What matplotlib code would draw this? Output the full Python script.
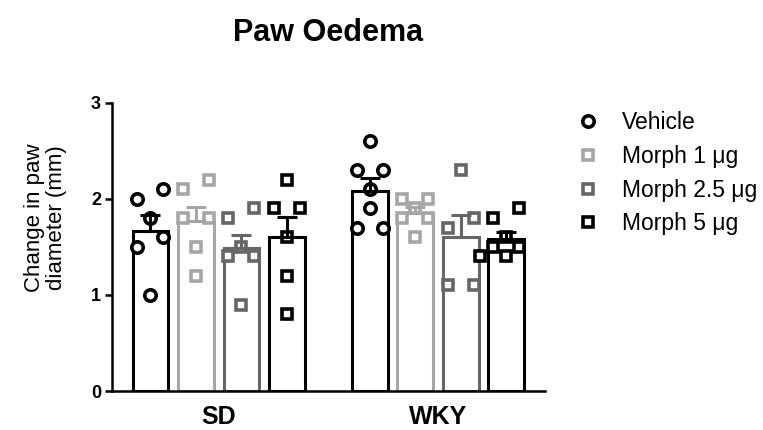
import numpy as np
import matplotlib
matplotlib.use("Agg")
import matplotlib.pyplot as plt
from matplotlib.lines import Line2D

plt.rcParams['font.family'] = ['Liberation Sans', 'DejaVu Sans']

# values (change in paw diameter, mm)
groups = ['SD', 'WKY']
treatments = ['Vehicle', 'Morph 1 μg', 'Morph 2.5 μg', 'Morph 5 μg']

sd_vehicle = [2.1, 2.0, 1.8, 1.6, 1.5, 1.0]
sd_morph1 = [2.2, 2.1, 1.8, 1.8, 1.5, 1.2]
sd_morph25 = [1.9, 1.8, 1.5, 1.4, 1.4, 0.9]
sd_morph5 = [2.2, 1.9, 1.9, 1.6, 1.2, 0.8]

wky_vehicle = [2.6, 2.3, 2.3, 2.1, 1.9, 1.7, 1.7]
wky_morph1 = [2.0, 2.0, 1.9, 1.8, 1.8, 1.6]
wky_morph25 = [2.3, 1.8, 1.7, 1.1, 1.1]
wky_morph5 = [1.9, 1.8, 1.6, 1.5, 1.5, 1.4, 1.4]

data = {
    'SD': [sd_vehicle, sd_morph1, sd_morph25, sd_morph5],
    'WKY': [wky_vehicle, wky_morph1, wky_morph25, wky_morph5],
}

colors = ['#000000', '#a6a6a6', '#666666', '#000000']
markers = ['o', 's', 's', 's']
msizes = [8.2, 7.2, 7.2, 7.2]

group_gap = 4.82
bar_w = 0.79
lw = 2.2


def swarm(vals, step, size, ypx):
    # spread points sideways (in pixels) so markers don't sit on top of each other
    order = sorted(range(len(vals)), key=lambda i: -vals[i])
    clusters = []
    for i in order:
        if clusters and (vals[clusters[-1][-1]] - vals[i]) * ypx < size:
            clusters[-1].append(i)
        else:
            clusters.append([i])

    offs = {}
    placed = []

    def free(x, y):
        return all(np.hypot(x - px, y - py) >= size for px, py in placed)

    cands = sorted([k * step / 2 for k in range(-10, 11)], key=lambda c: (abs(c), c))
    for cl in clusters:
        if len(cl) == 2:
            for i, o in zip(cl, [step, -step]):
                offs[i] = o
                placed.append((o, vals[i] * ypx))
            continue
        # units of identical values
        units = []
        for i in cl:
            if units and vals[units[-1][0]] == vals[i]:
                units[-1].append(i)
            else:
                units.append([i])
        for u in units:
            k = len(u)
            y = vals[u[0]] * ypx
            layout = [(j - (k - 1) / 2) * 2 * step for j in range(k)]
            if all(free(o, y) for o in layout):
                for i, o in zip(u, layout):
                    offs[i] = o
                    placed.append((o, y))
                continue
            for i in u:
                for c in cands:
                    if free(c, y):
                        offs[i] = c
                        placed.append((c, y))
                        break
    return [offs[i] for i in range(len(vals))]


fig = plt.figure(figsize=(7.63, 4.30), dpi=100)
ax = fig.add_axes([112 / 763, 1 - 391 / 430, 433 / 763, 288.3 / 430])
ax.set_ylim(0, 3)
ax.set_xlim(-2.346, 7.17)

px0 = ax.transData.transform([(0, 0), (1, 1)])
xpx = px0[1, 0] - px0[0, 0]
ypx = px0[1, 1] - px0[0, 1]

for g, grp in enumerate(groups):
    center = g * group_gap
    for t, vals in enumerate(data[grp]):
        x = center + (t - 1.5)
        v = np.array(vals)
        mean = v.mean()
        sem = v.std(ddof=1) / np.sqrt(len(v))
        ax.bar(x, mean, width=bar_w, facecolor='white', edgecolor=colors[t],
               linewidth=lw, zorder=2)
        offs = np.array(swarm(vals, 13, 12, ypx)) / xpx
        ax.plot(x + offs, v, linestyle='none', marker=markers[t], ms=msizes[t],
                mfc='white', mec=colors[t], mew=2.6, zorder=3)
        ax.errorbar(x, mean, yerr=[[0], [sem]], fmt='none', ecolor=colors[t],
                    elinewidth=lw, capsize=7, capthick=lw, zorder=4)

for s in ['top', 'right']:
    ax.spines[s].set_visible(False)
for s in ['left', 'bottom']:
    ax.spines[s].set_linewidth(1.8)

ax.set_yticks([0, 1, 2, 3])
ax.set_yticklabels(['0', '1', '2', '3'], fontsize=13, fontweight='bold')
ax.tick_params(axis='y', length=5, width=1.8, pad=3)
ax.set_xticks([0, group_gap])
ax.set_xticklabels(groups, fontsize=18, fontweight='bold')
ax.tick_params(axis='x', length=0, pad=10)

ax.set_ylabel('Change in paw\ndiameter (mm)', fontsize=16, linespacing=1.05)
ax.yaxis.set_label_coords(-0.104, 0.60)

fig.text(328.5 / 763, 1 - 33 / 430, 'Paw Oedema', fontsize=22, fontweight='bold',
         ha='center', va='center')

handles = [Line2D([], [], linestyle='none', marker=markers[t], ms=msizes[t],
                  mfc='white', mec=colors[t], mew=2.6) for t in range(4)]
fig.legend(handles, treatments, loc='upper left', bbox_to_anchor=(577 / 763, 1 - 111 / 430),
           frameon=False, fontsize=16.5, handlelength=1.0, handletextpad=0.95,
           labelspacing=0.47, borderpad=0, borderaxespad=0)

fig.savefig('out.png', dpi=100)
